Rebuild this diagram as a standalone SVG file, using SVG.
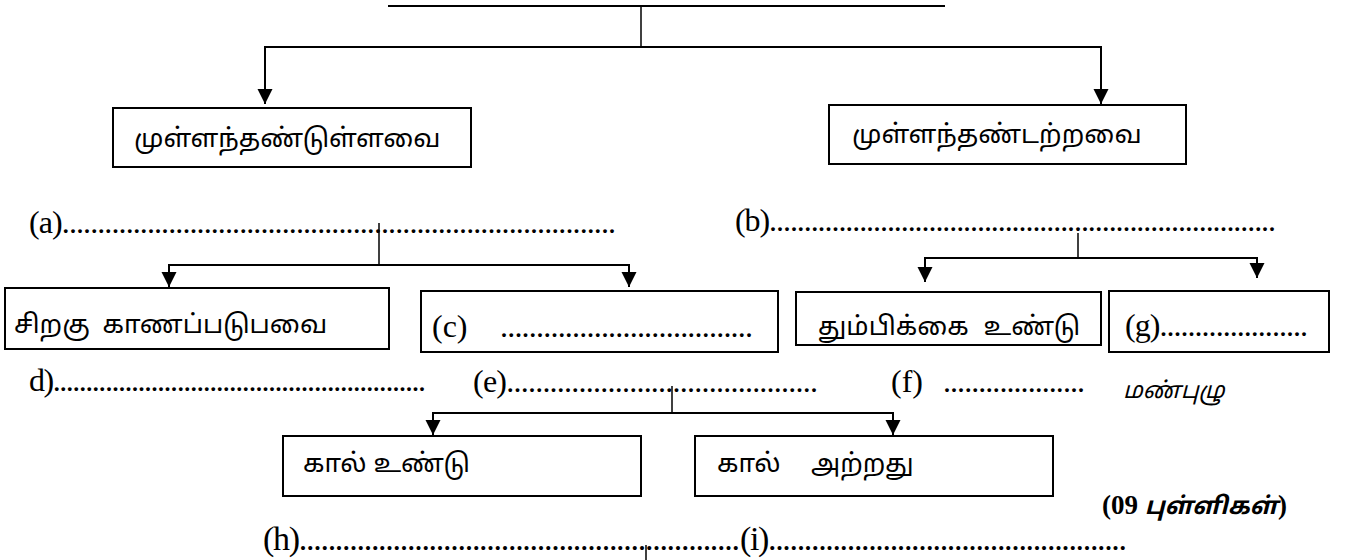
<svg xmlns="http://www.w3.org/2000/svg" width="1347" height="560" viewBox="0 0 1347 560">
<defs>
<marker id="arr" markerUnits="userSpaceOnUse" markerWidth="16" markerHeight="16" refX="15" refY="7.5" orient="auto">
<path d="M0,0 L15,7.5 L0,15 z" fill="#000"/>
</marker>
<style>
.box{fill:#fff;stroke:#000;stroke-width:2}
.ln{fill:none;stroke:#000;stroke-width:2}
.st{fill:none;stroke:#000;stroke-width:1.5}
.ar{fill:none;stroke:#000;stroke-width:2;marker-end:url(#arr)}
.ta{font-family:"Noto Sans Tamil","Latha","Lohit Tamil","Noto Sans",sans-serif;font-size:26px;fill:#000}
.lb{font-family:"Liberation Serif","Times New Roman",serif;font-size:32px;fill:#000}
.lb2{font-family:"Liberation Serif","Times New Roman",serif;font-size:34px;fill:#000}
</style>
</defs>
<rect width="1347" height="560" fill="#fff"/>
<g id="connectors">
<line class="ln" x1="388" y1="6" x2="945" y2="6"/>
<line class="st" x1="641" y1="6" x2="641" y2="46"/>
<polyline class="ln" points="265,60 265,47 1101,47 1101,60"/>
<line class="ar" x1="265" y1="47" x2="265" y2="104"/>
<line class="ar" x1="1101" y1="47" x2="1101" y2="104"/>
<line class="st" x1="379" y1="223" x2="379" y2="264"/>
<polyline class="ln" points="169,265 629,265"/>
<line class="ar" x1="169" y1="264" x2="169" y2="287"/>
<line class="ar" x1="629" y1="264" x2="629" y2="287"/>
<line class="st" x1="1078" y1="233" x2="1078" y2="258"/>
<polyline class="ln" points="925,258 1257,258"/>
<line class="ar" x1="925" y1="257" x2="925" y2="282"/>
<line class="ar" x1="1257" y1="257" x2="1257" y2="278"/>
<line class="st" x1="672" y1="386" x2="672" y2="412"/>
<polyline class="ln" points="433,413 893,413"/>
<line class="ar" x1="433" y1="412" x2="433" y2="435"/>
<line class="ar" x1="893" y1="412" x2="893" y2="435"/>
<line class="st" x1="646" y1="545" x2="646" y2="560"/>
</g>
<g id="n-vertebrates"><rect class="box" x="113" y="108" width="358" height="59"/><text class="ta" x="134" y="147">முள்ளந்தண்டுள்ளவை</text></g>
<g id="n-invertebrates"><rect class="box" x="829" y="105" width="357" height="59"/><text class="ta" x="852" y="143">முள்ளந்தண்டற்றவை</text></g>
<g id="n-a"><text class="lb" x="29" y="233" textLength="587" lengthAdjust="spacing">(a)..............................................................................</text></g>
<g id="n-b"><text class="lb" x="735" y="231" textLength="541" lengthAdjust="spacing">(b).........................................................................</text></g>
<g id="n-wings"><rect class="box" x="5" y="288" width="384" height="61"/><text class="ta" x="14" y="333" style="word-spacing:6px">சிறகு காணப்படுபவை</text></g>
<g id="n-c"><rect class="box" x="421" y="291" width="357" height="61"/><text class="lb" x="432" y="337">(c)</text><text class="lb" x="500" y="337" textLength="253" lengthAdjust="spacing">...................................</text></g>
<g id="n-trunk"><rect class="box" x="796" y="292" width="305" height="53"/><text class="ta" x="818" y="335" style="word-spacing:8px">தும்பிக்கை உண்டு</text></g>
<g id="n-g"><rect class="box" x="1109" y="291" width="220" height="61"/><text class="lb" x="1125" y="336" textLength="183" lengthAdjust="spacing">(g).....................</text></g>
<g id="n-d"><text class="lb" x="29" y="391" textLength="397" lengthAdjust="spacing">d).........................................................</text></g>
<g id="n-e"><text class="lb" x="473" y="392" textLength="345" lengthAdjust="spacing">(e)...........................................</text></g>
<g id="n-f"><text class="lb" x="891" y="392">(f)</text><text class="lb" x="943" y="392" textLength="142" lengthAdjust="spacing">....................</text></g>
<g id="n-earthworm"><text class="ta" x="1123" y="398" style="font-size:23px;font-style:italic">மண்புழு</text></g>
<g id="n-legs"><rect class="box" x="283" y="436" width="358" height="60"/><text class="ta" x="303" y="472">கால் உண்டு</text></g>
<g id="n-nolegs"><rect class="box" x="695" y="436" width="358" height="60"/><text class="ta" x="717" y="472">கால்</text><text class="ta" x="811" y="472">அற்றது</text></g>
<g id="n-marks"><text x="1102" y="514" style="font-family:'Liberation Serif',serif;font-size:27px;font-weight:bold">(09 <tspan style="font-family:'Noto Sans Tamil','Latha','Noto Sans',sans-serif;font-style:italic;font-size:24px">புள்ளிகள்</tspan>)</text></g>
<g id="n-h"><text class="lb2" x="263" y="550" textLength="477" lengthAdjust="spacing">(h).............................................................</text></g>
<g id="n-i"><text class="lb2" x="740" y="550" textLength="387" lengthAdjust="spacing">(i)..................................................</text></g>
</svg>
